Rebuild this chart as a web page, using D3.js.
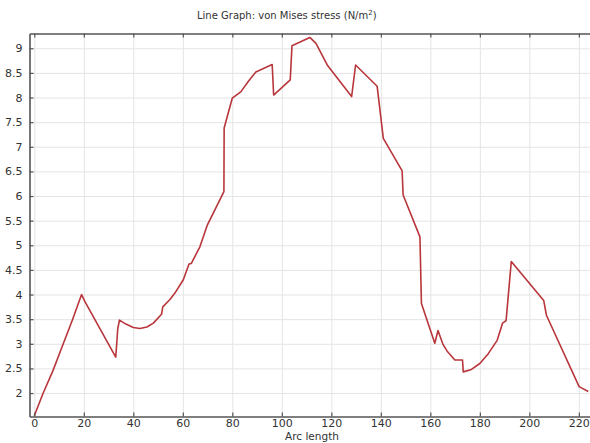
<!DOCTYPE html>
<html>
<head>
<meta charset="utf-8">
<script src="https://cdn.jsdelivr.net/npm/d3@7"></script>
<style>
  html, body { margin: 0; padding: 0; background: #fff; }
  svg { display: block; font-family: "DejaVu Sans", sans-serif; }
</style>
</head>
<body>
<svg id="chart" width="590" height="443"></svg>
<script>
// ---- data ----
const arcLength = [0, 3.6, 7.5, 11.7, 15.5, 19.1, 20.4, 32.9, 33.3, 33.7, 34.4, 37, 40, 42.7, 45.5, 48.1,
  51.4, 51.9, 54.8, 56.8, 60.2, 62.5, 63.4, 66.9, 69.9, 76.6, 76.7, 80.0, 83.5, 86.5, 89.5, 96.1, 96.7,
  103.4, 104.1, 111.3, 113.8, 118.5, 128.2, 129.8, 138.5, 141.0, 148.6, 149.0, 155.8, 156.4, 161.8, 163.1,
  165.0, 166.8, 169.9, 173.0, 173.3, 176.6, 180.0, 183.4, 187.0, 189.2, 190.6, 192.7, 205.8, 206.9, 220.1, 223.8];
const stress = [1.54, 2.0, 2.45, 3.0, 3.5, 4.0, 3.86, 2.73, 3.0, 3.3, 3.48, 3.4, 3.33, 3.31, 3.34, 3.42,
  3.6, 3.75, 3.9, 4.03, 4.3, 4.62, 4.63, 4.97, 5.41, 6.09, 7.38, 7.99, 8.12, 8.33, 8.52, 8.67, 8.05,
  8.36, 9.05, 9.22, 9.10, 8.65, 8.02, 8.66, 8.23, 7.17, 6.51, 6.02, 5.17, 3.82, 3.01, 3.27,
  3.0, 2.85, 2.67, 2.67, 2.43, 2.48, 2.6, 2.8, 3.07, 3.42, 3.47, 4.67, 3.88, 3.58, 2.13, 2.03];
const xTicks = [0, 20, 40, 60, 80, 100, 120, 140, 160, 180, 200, 220];
const yTicks = [2, 2.5, 3, 3.5, 4, 4.5, 5, 5.5, 6, 6.5, 7, 7.5, 8, 8.5, 9];
const xDomain = [-1.94, 224.3];
const yDomain = [1.524, 9.30];
const titleText = "Line Graph: von Mises stress (N/m";
const xLabel = "Arc length";

// ---- layout ----
const svg = d3.select("#chart");
const L = 29.5, R = 589.5, T = 33.5, B = 416.5;
const x = d3.scaleLinear().domain(xDomain).range([L, R]);
const y = d3.scaleLinear().domain(yDomain).range([B, T]);
const fmt = d => String(d);

// grid
svg.append("g").attr("transform", `translate(0,${B})`)
  .call(d3.axisBottom(x).tickValues(xTicks).tickSize(-(B - T)).tickFormat(""))
  .call(g => g.select(".domain").remove())
  .call(g => g.selectAll("line").attr("stroke", "#e4e4e4").attr("stroke-width", 1));
svg.append("g").attr("transform", `translate(${L},0)`)
  .call(d3.axisLeft(y).tickValues(yTicks).tickSize(-(R - L)).tickFormat(""))
  .call(g => g.select(".domain").remove())
  .call(g => g.selectAll("line").attr("stroke", "#e4e4e4").attr("stroke-width", 1));

// line
const line = d3.line().x((d, i) => x(arcLength[i])).y(d => y(d));
svg.append("path").datum(stress)
  .attr("d", line)
  .attr("fill", "none")
  .attr("stroke", "#b8363b")
  .attr("stroke-width", 1.6)
  .attr("stroke-linejoin", "round");

// axes
const axisColor = "#555";
const textColor = "#333";
const bottomAxis = svg.append("g").attr("transform", `translate(0,${B})`)
  .call(d3.axisBottom(x).tickValues(xTicks).tickSizeInner(-4).tickSizeOuter(0).tickPadding(3).tickFormat(fmt));
const leftAxis = svg.append("g").attr("transform", `translate(${L},0)`)
  .call(d3.axisLeft(y).tickValues(yTicks).tickSizeInner(-4).tickSizeOuter(0).tickPadding(7).tickFormat(fmt));
const topAxis = svg.append("g").attr("transform", `translate(0,${T})`)
  .call(d3.axisTop(x).tickValues(xTicks).tickSizeInner(-4).tickSizeOuter(0).tickFormat(""));
[bottomAxis, leftAxis, topAxis].forEach(g => {
  g.select(".domain").attr("stroke", axisColor).attr("stroke-width", 1.6);
  g.selectAll(".tick line").attr("stroke", axisColor).attr("stroke-width", 1.2);
  g.selectAll("text").attr("fill", textColor).style("font-size", "11px").style("font-family", "DejaVu Sans, sans-serif");
});

// title
const t = svg.append("text").attr("x", 197).attr("y", 19)
  .attr("fill", textColor).style("font-size", "10px").text(titleText);
t.append("tspan").attr("dy", -4).style("font-size", "7px").text("2");
t.append("tspan").attr("dy", 4).text(")");

// x label
svg.append("text").attr("x", 312).attr("y", 439.5).attr("text-anchor", "middle")
  .attr("fill", textColor).style("font-size", "10.5px").text(xLabel);
</script>
</body>
</html>
